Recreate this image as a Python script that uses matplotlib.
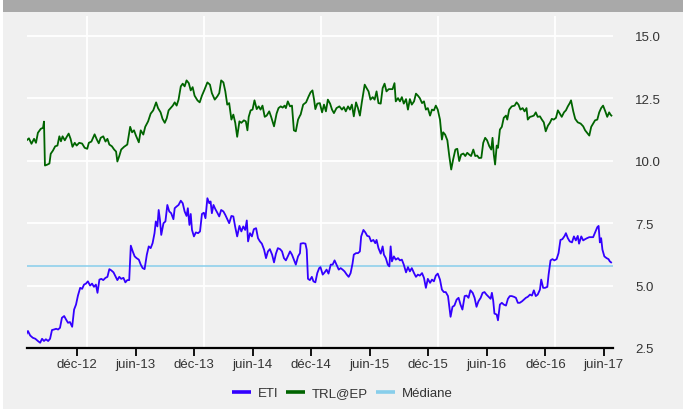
import matplotlib
matplotlib.use("Agg")
import matplotlib.pyplot as plt
from matplotlib.patches import Rectangle
import pandas as pd

# ---- data (days since 2013-01-01) ----
trl_days = [-189,-182,-174,-166,-160,-154,-145,-138,-135,-132,-124,-118,-114,-107,-100,-93,-87,-82,-77,-70,
            -64,-58,-52,-46,-39,-33,-25,-16,-8,0,5,13,23,30,36,42,50,57,63,69,77,84,90,94,100,106,115,125,
            134,140,146,152,161,167,175,181,190,198,206,215,221,229,235,242,248,254,260,267,273,279,285,
            292,298,304,310,317,323,329,335,344,351,358,366,375,383,389,398,406,412,418,425,431,437,443,
            450,456,462,468,475,481,489,495,500,504,510,516,522,529,535,541,547,554,560,568,574,583,591,
            597,604,610,616,620,626,633,639,645,651,658,664,
            666,674,683,691,697,703,708,712,718,726,733,739,745,751,758,764,770,778,787,795,801,807,814,
            820,826,832,839,845,851,857,866,872,878,884,891,897,903,909,916,922,928,934,941,947,953,959,
            963,970,976,982,988,995,1001,1007,1013,1020,1026,1032,1038,1045,1051,1057,1063,1070,1076,1082,
            1088,1094,1101,1107,1111,1117,1124,1130,1136,1142,1149,1155,1161,1167,1174,1180,1186,1192,1198,
            1205,1211,1217,1223,1230,1236,1242,1248,1255,1261,1265,1269,1273,1278,1282,1288,1294,1300,1307,
            1311,1317,1325,1334,1340,1346,1352,1359,1365,1371,1375,1382,1388,1394,1400,1406,1413,1419,1425,
            1431,1438,1444,1450,1456,1463,1469,1475,1481,1488,1494,1500,1506,1510,1517,1523,1531,1540,1548,
            1554,1560,1567,1573,1579,1585,1592,1598,1604,1610,1617,1623,1629,1633,1636]
trl_values = [10.82,10.9,10.68,10.88,10.72,11.12,11.28,11.32,11.57,9.81,9.85,9.89,10.28,10.41,10.58,10.61,
              10.98,10.78,10.98,10.82,10.96,11.09,10.88,10.56,10.72,10.61,10.72,10.69,10.52,10.48,10.72,
              10.77,11.06,10.85,10.7,10.92,10.98,10.77,10.88,10.65,10.58,10.45,10.37,9.97,10.19,10.45,
              10.56,10.65,11.36,11.14,11.22,11.01,10.74,11.22,11.05,11.36,11.58,11.89,12.02,12.34,12.11,
              11.94,11.68,11.52,11.7,12.02,12.11,12.21,12.34,12.21,12.45,12.98,13.09,12.98,13.22,13.11,
              12.82,12.95,12.61,12.42,12.34,12.61,12.85,13.14,13.05,12.71,12.45,12.58,12.71,13.22,13.14,
              12.78,12.25,12.31,11.65,11.85,11.52,10.96,11.58,11.52,11.62,11.58,11.22,11.76,12.02,12.05,
              12.42,12.07,12.18,12.05,12.21,11.76,11.81,11.98,11.76,11.38,11.89,12.11,12.18,12.13,12.21,
              12.11,12.38,12.18,12.21,11.22,11.18,11.65,11.81,
              11.85,12.25,12.34,12.58,12.74,12.82,12.45,12.07,12.29,12.31,11.94,12.25,11.98,12.45,12.29,
              12.05,11.91,12.11,12.18,12.05,12.15,11.98,12.18,12.05,12.25,11.78,12.34,12.11,11.81,12.34,
              13.05,12.91,12.78,12.45,12.55,12.45,12.78,12.31,12.29,12.91,13.09,12.78,12.87,12.87,12.87,
              13.11,12.38,12.51,12.38,12.55,12.29,12.47,12.05,12.47,12.25,12.38,12.69,12.61,12.51,12.31,
              12.38,12.05,12.11,11.81,12.05,12.02,12.21,12.05,11.65,10.85,11.14,11.05,10.82,10.19,9.65,
              10.05,10.45,10.48,9.99,10.25,10.29,10.19,10.32,10.25,10.19,10.45,10.19,10.21,10.11,10.12,
              10.72,10.92,10.82,10.58,10.45,10.92,10.25,9.85,10.61,10.52,11.25,11.36,11.72,11.81,11.65,
              12.05,12.18,12.21,12.34,12.25,12.05,12.11,11.98,12.11,11.65,11.76,11.78,11.81,11.94,11.76,
              11.78,11.65,11.54,11.18,11.41,11.52,11.68,11.65,11.72,12.02,11.89,11.76,11.94,12.02,12.18,
              12.31,12.42,11.98,11.68,11.54,11.49,11.38,11.22,11.12,11.01,11.36,11.49,11.62,11.65,11.94,
              12.11,12.21,11.98,11.76,11.94,11.85,11.81]

eti_days = [-189,-185,-178,-170,-162,-154,-147,-141,-135,-129,-122,-116,-110,-104,-97,-91,-85,-79,-72,-66,
            -60,-54,-47,-41,-35,-29,-22,-16,-10,-4,2,9,15,21,27,32,38,44,50,57,63,69,75,82,88,94,100,106,
            113,119,125,131,136,142,148,154,161,167,173,179,186,192,198,204,210,214,219,223,227,231,238,
            244,250,256,262,269,273,279,285,292,298,304,310,314,319,323,327,333,339,346,352,358,364,369,
            375,381,385,389,394,400,406,412,418,425,431,437,443,450,456,462,468,475,481,487,493,498,502,
            508,514,520,527,533,539,545,552,558,564,570,577,583,589,595,602,608,614,620,626,633,639,645,
            651,658,664,
            666,674,681,685,689,695,701,706,712,718,724,728,735,741,747,753,760,766,772,778,785,791,797,
            803,810,816,822,828,832,839,845,851,855,862,868,874,880,886,893,899,903,909,916,922,926,932,
            938,943,947,951,957,963,970,976,982,988,995,1001,1007,1013,1020,1026,1032,1038,1045,1051,1057,
            1063,1070,1076,1082,1088,1094,1101,1107,1113,1119,1126,1130,1134,1140,1146,1153,1159,1165,1171,
            1178,1184,1190,1196,1203,1209,1215,1221,1228,1234,1240,1246,1253,1259,1263,1267,1271,1278,1282,
            1288,1294,1300,1307,1313,1319,1325,1332,1338,1344,1350,1357,1363,1369,1375,1382,1388,1394,1400,
            1406,1413,1417,1423,1429,1436,1440,1446,1452,1458,1465,1471,1477,1483,1490,1494,1500,1506,1513,
            1519,1525,1531,1535,1542,1548,1554,1560,1567,1573,1579,1585,1592,1596,1600,1604,1608,1614,1621,
            1627,1631,1635]
eti_values = [3.08,3.18,3.0,2.91,2.87,2.78,2.71,2.87,2.78,2.85,2.78,2.87,3.22,3.24,3.27,3.24,3.31,3.71,3.78,
              3.64,3.51,3.54,3.35,4.04,4.24,4.6,4.91,4.87,5.04,5.08,5.17,5.0,5.08,4.95,5.04,4.71,5.24,5.27,
              5.22,5.31,5.35,5.66,5.61,5.53,5.37,5.22,5.35,5.27,5.31,5.13,5.22,5.22,6.6,6.37,6.17,6.1,6.04,
              5.84,5.7,5.66,6.24,6.57,6.5,6.7,7.1,7.57,7.37,8.03,7.63,7.03,7.5,7.57,8.23,7.97,7.9,7.66,8.1,
              8.17,8.23,8.4,8.3,7.97,7.79,8.1,7.43,7.87,7.23,6.97,7.13,7.1,7.17,7.87,7.92,7.7,8.5,8.3,8.37,
              7.9,8.23,8.06,7.92,7.77,8.03,7.97,7.83,7.66,7.5,7.79,7.77,7.34,6.97,7.39,7.17,7.37,7.23,7.61,
              6.77,7.1,6.97,7.26,7.3,6.9,6.77,6.68,6.44,6.1,6.37,6.46,6.24,5.93,6.28,6.5,6.46,6.37,6.1,6.01,
              6.17,6.37,6.24,6.04,5.84,6.17,6.3,
              6.68,6.7,6.68,6.44,5.27,5.22,5.35,5.17,5.13,5.5,5.7,5.74,5.44,5.53,5.64,5.48,5.84,5.84,6.01,
              5.84,5.64,5.7,5.64,5.57,5.44,5.35,5.5,5.88,6.24,6.3,6.3,6.37,6.97,7.23,7.13,6.99,6.97,6.77,
              6.83,6.7,6.83,6.5,6.28,6.57,6.24,6.1,5.84,5.77,6.57,5.97,6.17,6.04,6.1,6.01,6.04,5.84,5.53,
              5.74,5.57,5.7,5.5,5.35,5.44,5.4,5.5,5.31,4.91,5.27,5.11,5.24,5.17,5.4,5.48,5.24,4.84,4.74,
              4.74,4.58,4.18,3.75,4.15,4.2,4.44,4.51,4.24,4.04,4.58,4.6,4.51,4.81,4.71,4.51,4.15,4.37,4.51,
              4.71,4.74,4.64,4.55,4.47,4.71,4.41,3.88,3.84,3.61,4.24,4.31,4.24,4.2,4.47,4.58,4.58,4.55,4.51,
              4.31,4.31,4.37,4.44,4.51,4.55,4.64,4.6,4.81,4.58,4.64,4.84,5.24,4.91,4.91,4.95,5.44,6.01,6.06,
              6.01,6.06,6.3,6.83,6.86,6.99,7.1,6.9,6.77,6.73,6.97,6.81,6.99,6.68,6.97,6.81,6.86,6.9,6.94,
              6.94,6.94,7.13,7.34,7.39,6.73,6.9,6.44,6.17,6.1,6.06,5.97,5.93]

median_value = 5.8
series_labels = ["ETI", "TRL@EP", "Médiane"]
tick_dates = ["2012-12-01", "2013-06-01", "2013-12-01", "2014-06-01", "2014-12-01",
              "2015-06-01", "2015-12-01", "2016-06-01", "2016-12-01", "2017-06-01"]
tick_labels = ["déc-12", "juin-13", "déc-13", "juin-14", "déc-14",
               "juin-15", "déc-15", "juin-16", "déc-16", "juin-17"]
year_starts = ["2013-01-01", "2014-01-01", "2015-01-01", "2016-01-01", "2017-01-01"]
y_ticks = [2.5, 5.0, 7.5, 10.0, 12.5, 15.0]

# ---- figure ----
plt.rcParams['font.family'] = ['Liberation Sans', 'DejaVu Sans']
W, H = 683, 410
fig = plt.figure(figsize=(W / 100, H / 100), dpi=100, facecolor="white")
BG = "#f0f0f0"
fig.patches.append(Rectangle((3 / W, 0), 1, 1, transform=fig.transFigure,
                             facecolor=BG, edgecolor="none", zorder=-10))
fig.patches.append(Rectangle((3 / W, 1 - 13 / H), 1, 13 / H, transform=fig.transFigure,
                             facecolor="#a9a9a9", edgecolor="none", zorder=-9))

ax = fig.add_axes([27 / W, 1 - 349 / H, 586 / W, 332 / H])
ax.set_facecolor(BG)

base = pd.Timestamp("2013-01-01")
trl_dates = base + pd.to_timedelta(trl_days, unit="D")
eti_dates = base + pd.to_timedelta(eti_days, unit="D")

l1, = ax.plot(eti_dates, eti_values, color="#3300ff", lw=1.3, zorder=3)
l2, = ax.plot(trl_dates, trl_values, color="#006400", lw=1.3, zorder=3)
l3 = ax.axhline(median_value, color="#87ceeb", lw=1.1, zorder=2)

ax.set_xlim(base + pd.Timedelta(days=-188), base + pd.Timedelta(days=1641))
ax.set_ylim(2.5, 15.8)

ax.set_xticks(pd.to_datetime(year_starts))
ax.set_xticks(pd.to_datetime(tick_dates), minor=True)
ax.set_xticklabels(tick_labels, minor=True)
ax.tick_params(axis="x", which="major", length=0, labelbottom=False)
ax.tick_params(axis="x", which="minor", length=6, width=1.3, color="black",
               labelsize=9.5, labelcolor="#333333", pad=1.5)
ax.xaxis.grid(True, which="major", color="white", lw=1.3)

ax.set_yticks(y_ticks)
ax.set_yticklabels([f"{v:.1f}" for v in y_ticks])
ax.yaxis.tick_right()
ax.tick_params(axis="y", length=0, labelsize=9.5, labelcolor="#333333", pad=16)
ax.yaxis.grid(True, color="white", lw=1.3)
ax.set_axisbelow(True)

for s in ["top", "left", "right"]:
    ax.spines[s].set_visible(False)
ax.spines["bottom"].set_color("black")
ax.spines["bottom"].set_linewidth(1.6)
ax.spines["bottom"].set_zorder(4)

leg = fig.legend([l1, l2, l3], series_labels, loc="center", ncol=3,
                 bbox_to_anchor=(342 / W, 1 - 394 / H), frameon=False,
                 fontsize=9.5, handlelength=1.45, handletextpad=0.5, columnspacing=0.6)
for h in leg.get_lines():
    h.set_linewidth(2.6)
    h.set_solid_capstyle("butt")
for t in leg.get_texts():
    t.set_color("#333333")

fig.savefig("out.png", dpi=100, facecolor=fig.get_facecolor())
